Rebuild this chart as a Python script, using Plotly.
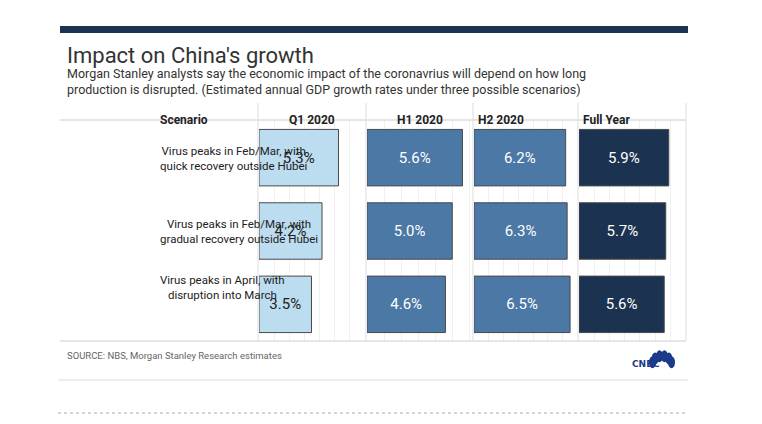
import plotly.graph_objects as go
import math

scenarios = ["Virus peaks in Feb/Mar, with<br>quick recovery outside Hubei",
             "Virus peaks in Feb/Mar, with<br>gradual recovery outside Hubei",
             "Virus peaks in April, with<br>disruption into March"]
periods = ["Q1 2020", "H1 2020", "H2 2020", "Full Year"]
q1 = [5.3, 4.2, 3.5]
h1 = [5.6, 5.0, 4.6]
h2 = [6.2, 6.3, 6.5]
fy = [5.9, 5.7, 5.6]
series = [q1, h1, h2, fy]
colors = ["#bcdcf0", "#4b78a5", "#4b78a5", "#1b3350"]
textcolors = ["#222222", "white", "white", "white"]
xranges = [[0, 7.0], [0, 6.1], [0, 6.9], [0, 6.9]]

W, H = 762, 424
def px(x): return x / W
def py(y): return 1 - y / H

edges = [250, 358, 465, 570, 678]
fig = go.Figure()
rows = [0, 1, 2]
for i, vals in enumerate(series):
    ax = "" if i == 0 else str(i + 1)
    fig.add_trace(go.Bar(
        x=vals, y=rows, orientation="h",
        marker=dict(color=colors[i], line=dict(color="#4a4a4a", width=1)),
        text=[f"{v:.1f}%" for v in vals], textposition="inside",
        insidetextanchor="middle",
        textfont=dict(color=textcolors[i], size=15, family="Roboto"),
        xaxis="x" + ax, yaxis="y" + ax, hoverinfo="skip", width=0.77))
    fig.layout["xaxis" + ax] = dict(domain=[px(edges[i] + 1), px(edges[i + 1] - 2)],
                                     range=xranges[i], showticklabels=False,
                                     showgrid=True, gridcolor="#f0f0f0", dtick=1,
                                     zeroline=False, fixedrange=True)
    fig.layout["yaxis" + ax] = dict(domain=[py(333), py(113)], range=[2.5, -0.5],
                                     showticklabels=False, showgrid=False,
                                     zeroline=False, anchor="x" + ax)

P = dict(xref="paper", yref="paper", showarrow=False)
ann = []
ann.append(dict(P, x=px(57), y=py(47), text="Impact on China's growth",
                xanchor="left", yanchor="middle", font=dict(size=22, color="#333", family="Roboto")))
ann.append(dict(P, x=px(57), y=py(73), xanchor="left", yanchor="middle", align="left",
                text="Morgan Stanley analysts say the economic impact of the coronavrius will depend on how long<br>production is disrupted. (Estimated annual GDP growth rates under three possible scenarios)",
                font=dict(size=12.5, color="#333", family="Roboto")))
ann.append(dict(P, x=px(150), y=py(103), text="<b>Scenario</b>",
                font=dict(size=12, color="#222", family="Roboto")))
for i, p in enumerate(periods):
    ann.append(dict(P, x=px((edges[i] + edges[i + 1]) / 2), y=py(103), text=f"<b>{p}</b>",
                    font=dict(size=12, color="#222", family="Roboto")))
for r, s in enumerate(scenarios):
    ann.append(dict(P, x=px(150), y=py(150 + 73 * r), text=s,
                    font=dict(size=11.5, color="#222", family="Roboto")))
ann.append(dict(P, x=px(57), y=py(355), text="SOURCE: NBS, Morgan Stanley Research estimates",
                xanchor="left", font=dict(size=9.5, color="#666", family="Roboto")))
ann.append(dict(P, x=px(654), y=py(363), text="<b>CNBC</b>",
                font=dict(size=9, color="#1b3a8a", family="DejaVu Sans")))

shapes = [
    dict(type="rect", xref="paper", yref="paper", x0=px(52), x1=px(680), y0=py(25), y1=py(18),
         fillcolor="#1b3350", line=dict(width=0)),
    dict(type="line", xref="paper", yref="paper", x0=px(52), x1=px(678), y0=py(112), y1=py(112),
         line=dict(color="#cccccc", width=1)),
    dict(type="line", xref="paper", yref="paper", x0=px(52), x1=px(678), y0=py(333), y1=py(333),
         line=dict(color="#cccccc", width=1)),
    dict(type="line", xref="paper", yref="paper", x0=px(50), x1=px(680), y0=py(372), y1=py(372),
         line=dict(color="#dddddd", width=1)),
    dict(type="line", xref="paper", yref="paper", x0=px(50), x1=px(680), y0=py(405), y1=py(405),
         line=dict(color="#aaaaaa", width=1, dash="dot")),
]
for e in edges:
    shapes.append(dict(type="line", xref="paper", yref="paper", x0=px(e), x1=px(e),
                       y0=py(333), y1=py(95), line=dict(color="#dddddd", width=1)))
# peacock feathers (logo)
cx, cy = 654, 357
for k in range(6):
    a = math.pi * (0.1 + 0.8 * k / 5)
    ex, ey = cx - 10 * math.cos(a), cy - 9 * math.sin(a)
    shapes.append(dict(type="circle", xref="paper", yref="paper",
                       x0=px(ex - 3.5), x1=px(ex + 3.5), y0=py(ey + 6), y1=py(ey - 6),
                       fillcolor="#1b3a8a", line=dict(width=0)))

fig.update_layout(width=W, height=H, margin=dict(l=0, r=0, t=0, b=0),
                  paper_bgcolor="white", plot_bgcolor="white", showlegend=False,
                  annotations=ann, shapes=shapes)
fig.write_html("out.html")
